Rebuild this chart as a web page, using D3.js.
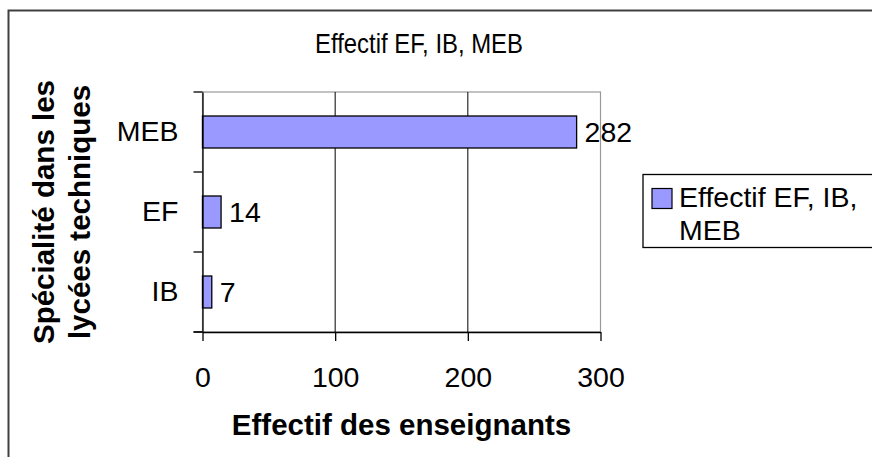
<!DOCTYPE html>
<html><head><meta charset="utf-8">
<script src="https://cdn.jsdelivr.net/npm/d3@7"></script>
<style>
html,body{margin:0;padding:0;background:#fff;}
svg{display:block;font-family:"Liberation Sans",Arial,sans-serif;}
</style></head>
<body><svg id="c" width="872" height="457"></svg>
<script>
const categories = ["MEB", "EF", "IB"];
const values = [282, 14, 7];
const xTicks = [0, 100, 200, 300];
const titleText = "Effectif EF, IB, MEB";
const xTitle = "Effectif des enseignants";
const yTitleLines = ["Spécialité dans les", "lycées techniques"];
const legendLines = ["Effectif EF, IB,", "MEB"];

const svg = d3.select("#c");
const m = {left: 202.5, right: 600.5, top: 92, bottom: 332};

// outer chart border
svg.append("rect").attr("x", 8.5).attr("y", 10.5).attr("width", 900).attr("height", 500)
  .attr("fill", "#fff").attr("stroke", "#404040").attr("stroke-width", 2);

const x = d3.scaleLinear().domain([0, 300]).range([m.left, m.right]);
const y = d3.scaleBand().domain(categories).range([m.top, m.bottom]).paddingInner(0.6).paddingOuter(0.3);

// plot border (gray)
svg.append("rect").attr("x", m.left).attr("y", m.top).attr("width", m.right - m.left).attr("height", m.bottom - m.top)
  .attr("fill", "none").attr("stroke", "#999").attr("stroke-width", 1.2);

// gridlines
svg.append("g").selectAll("line").data(xTicks.filter(d => d > 0 && d < 300)).join("line")
  .attr("x1", d => x(d)).attr("x2", d => x(d)).attr("y1", m.top).attr("y2", m.bottom)
  .attr("stroke", "#000").attr("stroke-width", 1);

// bars
svg.append("g").selectAll("rect").data(categories).join("rect")
  .attr("x", x(0)).attr("y", (d) => y(d))
  .attr("width", (d, i) => x(values[i]) - x(0)).attr("height", y.bandwidth())
  .attr("fill", "#9999FF").attr("stroke", "#000").attr("stroke-width", 1.3);

// data labels
svg.append("g").selectAll("text").data(categories).join("text")
  .attr("x", (d, i) => x(values[i]) + 8).attr("y", d => y(d) + y.bandwidth() / 2 + 10)
  .attr("font-size", 28.5).attr("fill", "#000").text((d, i) => values[i]);

// x axis
const xAxis = d3.axisBottom(x).tickValues(xTicks).tickSize(9).tickPadding(26).tickSizeOuter(0);
const gx = svg.append("g").attr("transform", `translate(0,${m.bottom})`).call(xAxis);
gx.select(".domain").attr("stroke", "#000").attr("stroke-width", 1.3);
gx.selectAll(".tick line").attr("stroke", "#000").attr("stroke-width", 1.3);
gx.selectAll("text").attr("font-size", 28.5).attr("fill", "#000").attr("font-family", "Liberation Sans, Arial, sans-serif");
gx.append("line").attr("x1", m.left - 9).attr("x2", m.left).attr("y1", 0).attr("y2", 0).attr("stroke", "#000").attr("stroke-width", 1.3);

// y axis
const yAxis = d3.axisLeft(y).tickSize(0).tickPadding(24);
const gy = svg.append("g").attr("transform", `translate(${m.left},0)`).call(yAxis);
gy.select(".domain").attr("stroke", "#000").attr("stroke-width", 1.3);
gy.selectAll("text").attr("font-size", 28.5).attr("fill", "#000").attr("font-family", "Liberation Sans, Arial, sans-serif");
// y ticks at band boundaries
const bounds = d3.range(categories.length + 1).map(i => m.top + i * (m.bottom - m.top) / categories.length);
gy.append("g").selectAll("line").data(bounds).join("line")
  .attr("x1", -9).attr("x2", 0).attr("y1", d => d).attr("y2", d => d)
  .attr("stroke", "#000").attr("stroke-width", 1.3);

// title (condensed face)
svg.append("text").attr("x", 419).attr("y", 53).attr("text-anchor", "middle")
  .attr("font-family", "'Liberation Sans Narrow','Arial Narrow','Liberation Sans',Arial,sans-serif")
  .attr("font-size", 28).attr("fill", "#000")
  .attr("textLength", 208).attr("lengthAdjust", "spacingAndGlyphs").text(titleText);

// x title
svg.append("text").attr("x", (m.left + m.right) / 2).attr("y", 435).attr("text-anchor", "middle")
  .attr("font-size", 29.5).attr("font-weight", "bold").attr("fill", "#000").text(xTitle);

// y title
const yt = svg.append("text").attr("transform", `translate(0,212) rotate(-90)`)
  .attr("text-anchor", "middle").attr("font-size", 29.5).attr("font-weight", "bold").attr("fill", "#000");
yTitleLines.forEach((t, i) => yt.append("tspan").attr("x", 0).attr("y", [54, 90][i]).text(t));

// legend
const lg = svg.append("g");
lg.append("rect").attr("x", 643).attr("y", 174.5).attr("width", 260).attr("height", 73)
  .attr("fill", "#fff").attr("stroke", "#000").attr("stroke-width", 1.3);
lg.append("rect").attr("x", 652).attr("y", 188.5).attr("width", 20).attr("height", 20)
  .attr("fill", "#9999FF").attr("stroke", "#000").attr("stroke-width", 1.2);
legendLines.forEach((t, i) => lg.append("text").attr("x", 679).attr("y", 206.7 + i * 33.3)
  .attr("font-size", 28.5).attr("fill", "#000").text(t));
</script></body></html>
